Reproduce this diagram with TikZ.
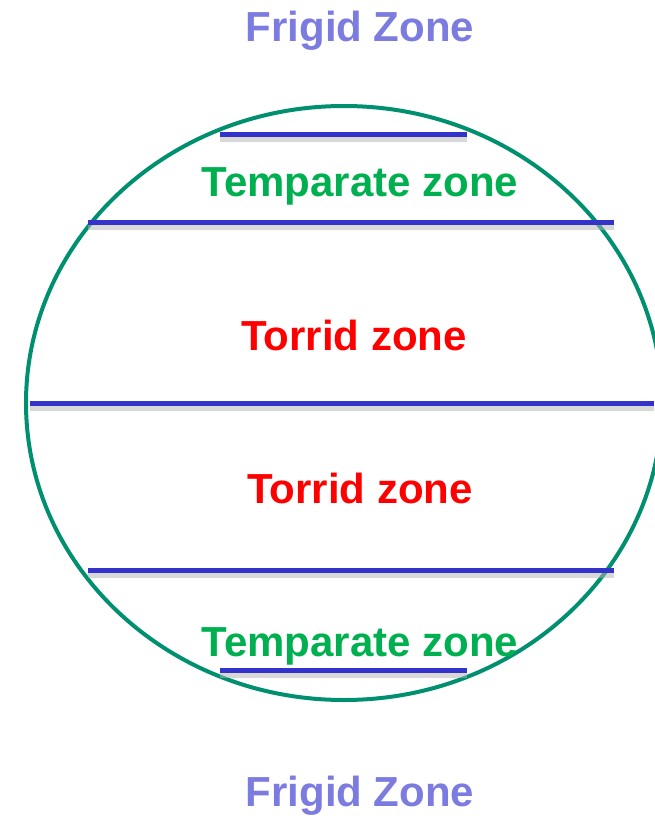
\documentclass[tikz,border=0pt]{standalone}
\usepackage{fontspec}
\setmainfont{Liberation Sans}
\usepackage{xcolor}
\definecolor{frigid}{HTML}{7B7BE0}
\definecolor{temp}{HTML}{00B050}
\definecolor{torrid}{HTML}{FF0000}
\definecolor{globe}{HTML}{009070}
\definecolor{belt}{HTML}{3333CC}
\tikzset{
  zonetext/.style={anchor=base, font=\fontsize{42}{50}\selectfont\bfseries},
  belt/.style={draw=belt, line width=5pt,
    preaction={draw=black!30, opacity=0.5, line width=7pt, transform canvas={yshift=-4pt}}},
}

\begin{document}
\begin{tikzpicture}[x=1pt,y=-1pt]
\useasboundingbox (0,0) rectangle (654,816);

\draw[globe, line width=4pt] (344,403) ellipse [x radius=318, y radius=297];

\draw[belt] (220,134) -- (467,134);
\draw[belt] (88,222) -- (614,222);
\draw[belt] (30,403) -- (654,403);
\draw[belt] (88,570) -- (614,570);
\draw[belt] (220,670) -- (467,670);

\node[zonetext, frigid] (FN) at (360,42) {Frigid Zone};
\node[zonetext, temp] (TN) at (360,196) {Temparate zone};
\node[zonetext, torrid] (RN) at (354,350) {Torrid zone};
\node[zonetext, torrid] (RS) at (360,503) {Torrid zone};
\node[zonetext, temp] (TS) at (360,656) {Temparate zone};
\node[zonetext, frigid] (FS) at (360,806) {Frigid Zone};
\end{tikzpicture}
\end{document}
